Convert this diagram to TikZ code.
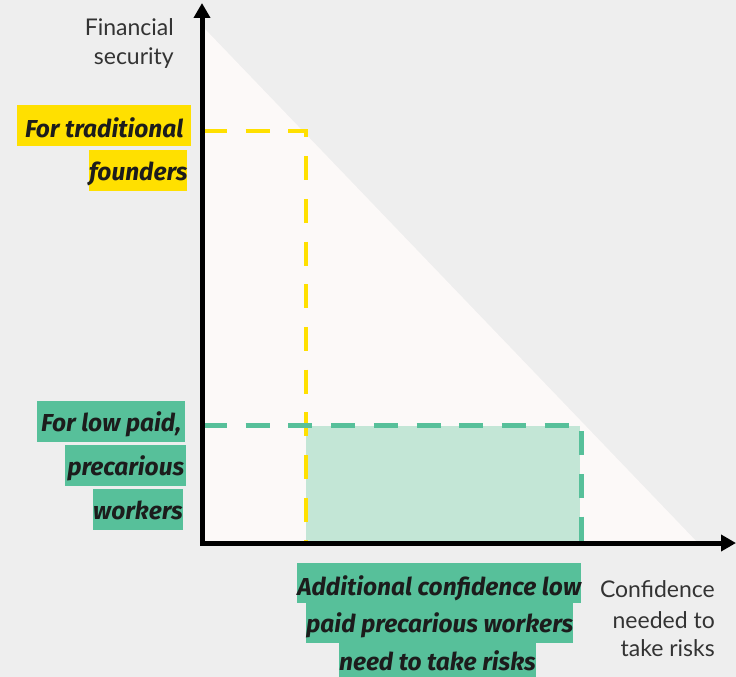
\documentclass[tikz,border=0pt]{standalone}
\usepackage{fontspec}
\setmainfont{Lato}
\newfontfamily\handfont{Fira Sans}
\usetikzlibrary{arrows.meta}
\definecolor{bg}{HTML}{EEEEEE}
\definecolor{tri}{HTML}{FCF9F8}
\definecolor{hlyellow}{HTML}{FFE000}
\definecolor{hlgreen}{HTML}{57C09A}
\definecolor{softgreen}{HTML}{C3E6D6}
\definecolor{ink}{HTML}{333333}
\definecolor{pen}{HTML}{1C1C1C}
\begin{document}
\begin{tikzpicture}[x=1pt,y=-1pt,
  axislabel/.style={font=\fontsize{23}{23}\selectfont, text=ink, inner sep=0pt, anchor=base east},
  tag/.style={inner sep=0pt, text height=20pt, text depth=0pt, minimum height=41pt,
    anchor=north west, text=pen,
    font=\handfont\itshape\bfseries\fontsize{24.5}{24.5}\selectfont},
  yellowtag/.style={tag, fill=hlyellow},
  greentag/.style={tag, fill=hlgreen},
  axis/.style={line width=5pt, line join=miter, {Triangle[length=15pt,width=16pt]}-{Triangle[length=15pt,width=16pt]}},
  guide/.style={line width=5pt, dash pattern=on 24pt off 18.7pt}
]
% canvas
\fill[bg] (0,0) rectangle (736,677);
\useasboundingbox (0,0) rectangle (736,677);

% feasible region under the trade-off line
\fill[tri] (204,28) -- (204,543) -- (698,543) -- cycle;

% extra confidence band
\fill[softgreen] (306,426) rectangle (580,543);

% guide lines from each axis level
\draw[guide, hlyellow, line width=4.5pt] (203,131) -- (306,131) -- (306,543);
\draw[guide, hlgreen] (203,425) -- (581,425) -- (581,543);

% axes
\coordinate (origin) at (202,543);
\coordinate (ytip) at (202,3);
\coordinate (xtip) at (736,543);
\draw[axis] (ytip) -- (origin) -- (xtip);

% axis titles
\node[axislabel] (ylab1) at (174,36) {Financial};
\node[axislabel] (ylab2) at (174,64) {security};
\node[axislabel] (xlab1) at (715,597) {Confidence};
\node[axislabel] (xlab2) at (715,628) {needed to};
\node[axislabel] (xlab3) at (715,656) {take risks};

% highlighted notes
\node[yellowtag, minimum width=174pt, text height=23pt] (trad1) at (17,105) {For traditional};
\node[yellowtag, minimum width=94pt] (trad2) at (89,150) {founders};

\node[greentag, minimum width=148pt] (low1) at (37,401) {For low paid,};
\node[greentag, minimum width=121pt] (low2) at (65,445) {precarious};
\node[greentag, minimum width=85pt] (low3) at (93,489) {workers};

\node[greentag, minimum width=284pt, minimum height=40pt, text height=24pt] (add1) at (297,563) {Additional confidence low};
\node[greentag, minimum width=267pt, minimum height=40pt, text height=18pt] (add2) at (306,603) {paid precarious workers};
\node[greentag, minimum width=193pt, minimum height=40pt, text height=14pt] (add3) at (339,643) {need to take risks};
\end{tikzpicture}
\end{document}
